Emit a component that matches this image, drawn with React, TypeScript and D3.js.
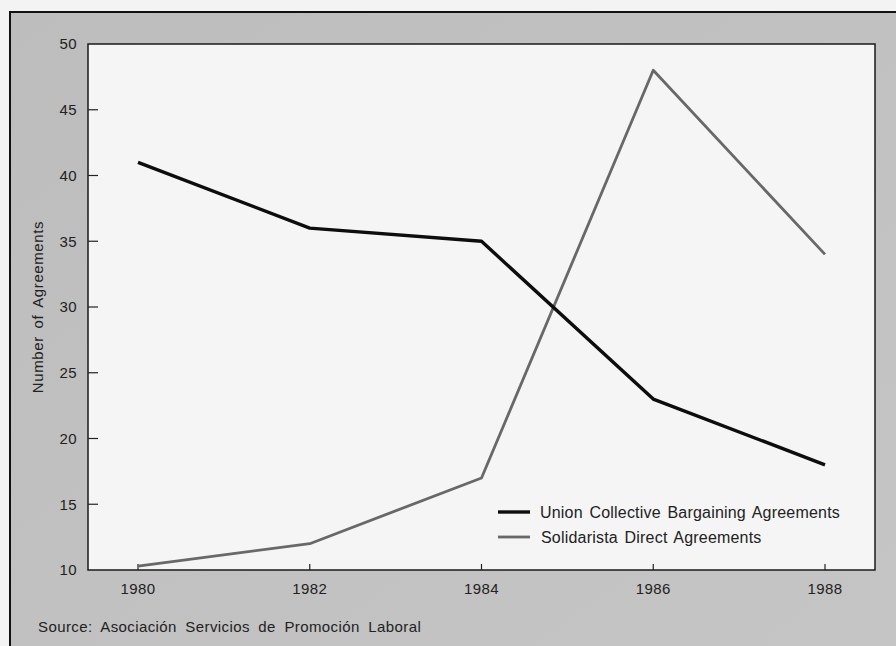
import React from 'react';
import * as d3 from 'd3';

const years = [1980, 1982, 1984, 1986, 1988];
const unionAgreements = [41, 36, 35, 23, 18];
const solidaristaAgreements = [10.3, 12, 17, 48, 34];
const yTicks = [10, 15, 20, 25, 30, 35, 40, 45, 50];

const W = 896;
const H = 646;
const plot = { left: 88, right: 875, top: 44, bottom: 570 };
const font = '"Liberation Sans", Arial, Helvetica, sans-serif';

const App: React.FC = () => {
  // scales
  const x = d3.scaleLinear().domain([1980, 1988]).range([138, 825]);
  const y = d3.scaleLinear().domain([10, 50]).range([plot.bottom, plot.top]);

  const line = d3.line<[number, number]>()
    .x(d => x(d[0]))
    .y(d => y(d[1]));

  const unionPts = years.map((yr, i) => [yr, unionAgreements[i]] as [number, number]);
  const solPts = years.map((yr, i) => [yr, solidaristaAgreements[i]] as [number, number]);

  return (
    <div style={{ position: 'fixed', left: 0, top: 0 }}>
      <svg width={W} height={H} style={{ display: 'block' }} fontFamily={font}>
        <defs>
          <linearGradient id="panel" x1="0" y1="0" x2="1" y2="1">
            <stop offset="0" stopColor="#bdbdbd" />
            <stop offset="1" stopColor="#c5c5c5" />
          </linearGradient>
        </defs>
        <rect x={0} y={0} width={W} height={H} fill="#f3f3f3" />
        {/* gray panel with black frame */}
        <rect x={10} y={12} width={W} height={H} fill="url(#panel)" stroke="#111" strokeWidth={2} />
        {/* plot area */}
        <rect
          x={plot.left}
          y={plot.top}
          width={plot.right - plot.left}
          height={plot.bottom - plot.top}
          fill="#f5f5f5"
          stroke="#1a1a1a"
          strokeWidth={1.5}
        />

        {/* y ticks */}
        {yTicks.map(t => (
          <g key={t}>
            {t !== 10 && t !== 50 && (
              <line x1={plot.left} x2={plot.left + 10} y1={y(t)} y2={y(t)} stroke="#222" strokeWidth={1.2} />
            )}
            <text x={77} y={y(t)} dy="0.36em" textAnchor="end" fontSize={15} letterSpacing={0.4} fill="#222">{t}</text>
          </g>
        ))}

        {/* x ticks */}
        {years.map(yr => (
          <g key={yr}>
            <line x1={x(yr)} x2={x(yr)} y1={plot.bottom} y2={plot.bottom - 6} stroke="#222" strokeWidth={1.2} />
            <text x={x(yr)} y={594} textAnchor="middle" fontSize={15} letterSpacing={0.4} fill="#222">{yr}</text>
          </g>
        ))}

        <text
          transform={`translate(43,${(plot.top + plot.bottom) / 2}) rotate(-90)`}
          textAnchor="middle"
          fontSize={15}
          letterSpacing={0.6}
          wordSpacing={3}
          fill="#222"
        >
          Number of Agreements
        </text>

        {/* series */}
        <path d={line(solPts) ?? ''} fill="none" stroke="#686868" strokeWidth={2.8} strokeLinejoin="round" />
        <path d={line(unionPts) ?? ''} fill="none" stroke="#0d0d0d" strokeWidth={3.4} strokeLinejoin="round" />

        {/* legend */}
        <line x1={498} x2={530} y1={512} y2={512} stroke="#0d0d0d" strokeWidth={3.4} />
        <text x={540} y={512} dy="0.36em" fontSize={16} letterSpacing={0.2} wordSpacing={2} fill="#222">
          Union Collective Bargaining Agreements
        </text>
        <line x1={498} x2={530} y1={537} y2={537} stroke="#686868" strokeWidth={2.8} />
        <text x={541} y={537} dy="0.36em" fontSize={16} letterSpacing={0.2} wordSpacing={2} fill="#222">
          Solidarista Direct Agreements
        </text>

        <text x={38} y={632} fontSize={15} letterSpacing={0.4} wordSpacing={4} fill="#222">
          Source: Asociación Servicios de Promoción Laboral
        </text>
      </svg>
    </div>
  );
};

export default App;
